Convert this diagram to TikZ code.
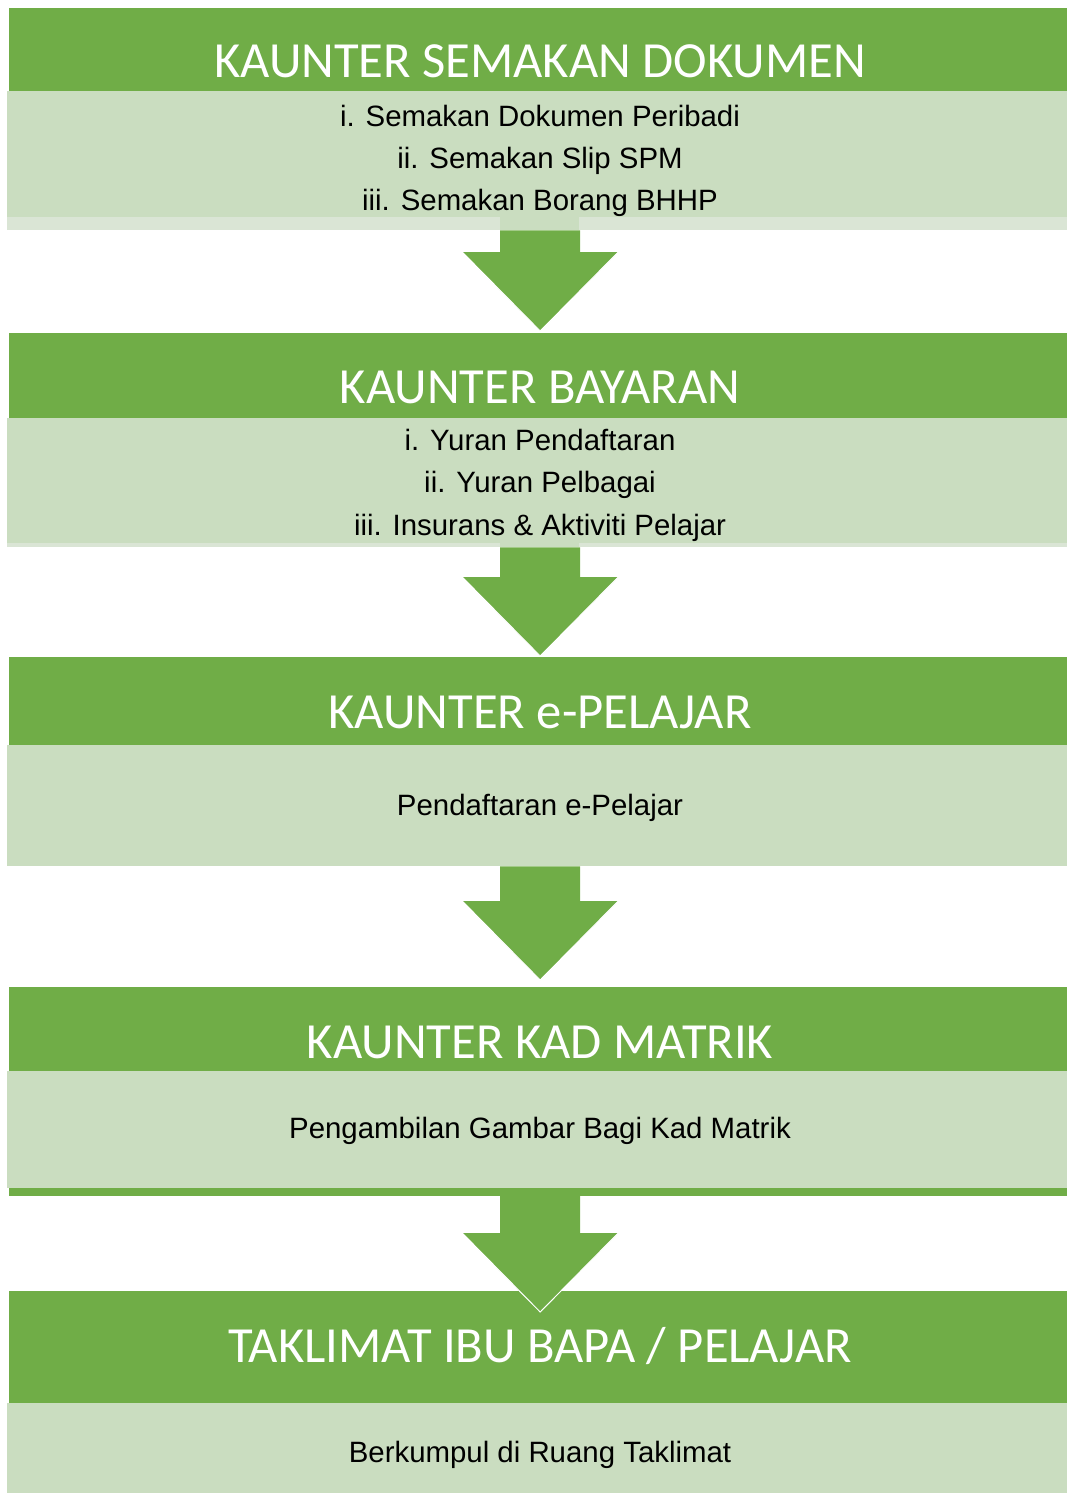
\documentclass[tikz,border=0pt]{standalone}
\usepackage{fontspec}
\setmainfont{Liberation Sans}
\newfontfamily\titlefont{Carlito}
\usetikzlibrary{calc}
\definecolor{hdrgreen}{HTML}{70AD47}
\definecolor{bodygreen}{HTML}{CADDC0}
\definecolor{stripgreen}{HTML}{DAE5D5}
\tikzset{
    hdrbox/.style={fill=hdrgreen,minimum width=1058pt,inner sep=0pt,anchor=north west},
    bodybox/.style={fill=bodygreen,minimum width=1060pt,inner sep=0pt,anchor=north west},
    hdrtext/.style={anchor=base,text=white,inner sep=0pt,font=\titlefont\fontsize{50.6}{60}\selectfont},
    itemtext/.style={anchor=base,inner sep=0pt,font=\fontsize{29.4}{35}\selectfont},
}
% block arrow: tail node, tip node, shift of the tip
\newcommand{\flowarrow}[3]{%
    \fill[hdrgreen] let \p1=($(#1)+(3,0)$), \p2=($(#2)+(0,#3)$) in
        (\x1-40pt,\y1) -- (\x1+40pt,\y1) -- (\x1+40pt,\y2+79pt) -- (\x1+78pt,\y2+79pt)
        -- (\x1,\y2) -- (\x1-78pt,\y2+79pt) -- (\x1-40pt,\y2+79pt) -- cycle;
    \draw[white,line width=1pt] let \p1=($(#1)+(3,0)$), \p2=($(#2)+(0,#3)$) in
        (\x1+78pt,\y2+79pt) -- (\x1,\y2) -- (\x1-78pt,\y2+79pt);
}

\begin{document}
\begin{tikzpicture}[x=1pt,y=1pt]
\useasboundingbox (0,0) rectangle (1067,-1493);
% boxes
\node[hdrbox,minimum height=83pt] (h1) at (9,-8) {};
\node[bodybox,minimum height=139pt] (b1) at (7,-91) {};
\fill[stripgreen] (7,-217) rectangle (500,-230);
\fill[stripgreen] (579,-217) rectangle (1067,-230);
\node[hdrbox,minimum height=85pt] (h2) at (9,-333) {};
\node[bodybox,minimum height=129pt] (b2) at (7,-418) {};
\fill[stripgreen] (7,-543) rectangle (500,-547);
\fill[stripgreen] (579,-543) rectangle (1067,-547);
\node[hdrbox,minimum height=88pt] (h3) at (9,-657) {};
\node[bodybox,minimum height=121pt] (b3) at (7,-745) {};
\node[hdrbox,minimum height=84pt] (h4) at (9,-987) {};
\node[bodybox,minimum height=117pt] (b4) at (7,-1071) {};
\fill[hdrgreen] (9,-1188) rectangle (1067,-1196);
\node[hdrbox,minimum height=112pt] (h5) at (9,-1291) {};
\node[bodybox,minimum height=90pt] (b5) at (7,-1403) {};
% arrows
\flowarrow{b1.south}{h2.north}{2}
\flowarrow{b2.south}{h3.north}{1}
\flowarrow{b3.south}{h4.north}{7}
\flowarrow{b4.south}{h5.north}{-21}
% texts
\node[hdrtext] (t1) at (540,-78) {KAUNTER SEMAKAN DOKUMEN};
\node[itemtext] (i1a) at (540,-127) {i. Semakan Dokumen Peribadi};
\node[itemtext] (i1b) at (540,-168) {ii. Semakan Slip SPM};
\node[itemtext] (i1c) at (540,-210) {iii. Semakan Borang BHHP};
\node[hdrtext] (t2) at (540,-403) {KAUNTER BAYARAN};
\node[itemtext] (i2a) at (540,-450) {i. Yuran Pendaftaran};
\node[itemtext] (i2b) at (540,-492) {ii. Yuran Pelbagai};
\node[itemtext] (i2c) at (540,-535) {iii. Insurans \& Aktiviti Pelajar};
\node[hdrtext] (t3) at (540,-728) {KAUNTER e-PELAJAR};
\node[itemtext] (i3a) at (540,-815) {Pendaftaran e-Pelajar};
\node[hdrtext] (t4) at (540,-1058) {KAUNTER KAD MATRIK};
\node[itemtext] (i4a) at (540,-1138) {Pengambilan Gambar Bagi Kad Matrik};
\node[hdrtext] (t5) at (540,-1362) {TAKLIMAT IBU BAPA / PELAJAR};
\node[itemtext] (i5a) at (540,-1462) {Berkumpul di Ruang Taklimat};
\end{tikzpicture}
\end{document}
